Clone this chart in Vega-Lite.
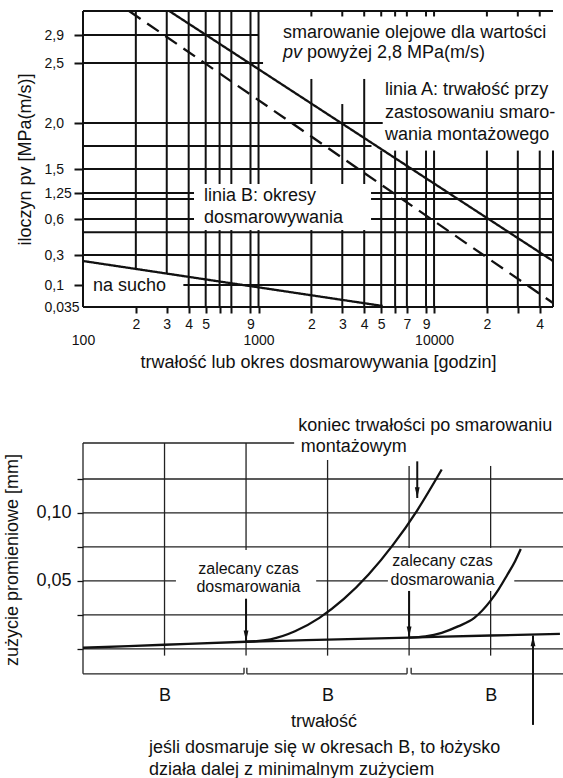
{
  "$schema": "https://vega.github.io/schema/vega-lite/v6.json",
  "background": "white",
  "padding": {"left": 3, "top": 6, "right": 0, "bottom": 0},
  "bounds": "flush",
  "spacing": 136,
  "config": {
    "font": "Liberation Sans",
    "view": {"stroke": null},
    "axis": {"labelFont": "Liberation Sans", "titleFont": "Liberation Sans", "labelColor": "#111", "titleColor": "#111", "tickColor": "#111", "titleFontWeight": "normal", "grid": false, "domain": false, "labelOverlap": false, "labelFlush": false},
    "text": {"font": "Liberation Sans", "color": "#111"}
  },
  "datasets": {
    "top_seg": [
      {"x": 100, "x2": 1000, "y": 2.9, "y2": 2.9},
      {"x": 100, "x2": 1061, "y": 2.5, "y2": 2.5},
      {"x": 100, "x2": 5100, "y": 2.0, "y2": 2.0},
      {"x": 100, "x2": 4400, "y": 1.75, "y2": 1.75},
      {"x": 100, "x2": 47600, "y": 1.5, "y2": 1.5},
      {"x": 100, "x2": 429, "y": 1.25, "y2": 1.25},
      {"x": 4375, "x2": 47600, "y": 1.25, "y2": 1.25},
      {"x": 100, "x2": 429, "y": 1.1, "y2": 1.1},
      {"x": 4375, "x2": 47600, "y": 1.1, "y2": 1.1},
      {"x": 100, "x2": 429, "y": 0.6, "y2": 0.6},
      {"x": 4375, "x2": 47600, "y": 0.6, "y2": 0.6},
      {"x": 100, "x2": 47600, "y": 0.49, "y2": 0.49},
      {"x": 100, "x2": 47600, "y": 0.3, "y2": 0.3},
      {"x": 373, "x2": 47600, "y": 0.1, "y2": 0.1},
      {"x": 200, "x2": 200, "y": 0.2, "y2": 3.25},
      {"x": 300, "x2": 300, "y": 0.18, "y2": 3.25},
      {"x": 400, "x2": 400, "y": 0.035, "y2": 3.25},
      {"x": 500, "x2": 500, "y": 1.344, "y2": 3.25},
      {"x": 500, "x2": 500, "y": 0.035, "y2": 0.508},
      {"x": 600, "x2": 600, "y": 1.344, "y2": 3.25},
      {"x": 600, "x2": 600, "y": 0.035, "y2": 0.508},
      {"x": 700, "x2": 700, "y": 1.344, "y2": 3.25},
      {"x": 700, "x2": 700, "y": 0.035, "y2": 0.508},
      {"x": 900, "x2": 900, "y": 1.344, "y2": 3.25},
      {"x": 900, "x2": 900, "y": 0.035, "y2": 0.508},
      {"x": 1000, "x2": 1000, "y": 1.344, "y2": 3.25},
      {"x": 1000, "x2": 1000, "y": 0.035, "y2": 0.508},
      {"x": 2000, "x2": 2000, "y": 1.344, "y2": 2.367},
      {"x": 2000, "x2": 2000, "y": 0.035, "y2": 0.508},
      {"x": 3000, "x2": 3000, "y": 1.344, "y2": 2.158},
      {"x": 3000, "x2": 3000, "y": 0.035, "y2": 0.508},
      {"x": 4000, "x2": 4000, "y": 1.344, "y2": 2.367},
      {"x": 4000, "x2": 4000, "y": 0.035, "y2": 0.508},
      {"x": 5000, "x2": 5000, "y": 0.035, "y2": 1.7},
      {"x": 6000, "x2": 6000, "y": 0.035, "y2": 1.7},
      {"x": 7000, "x2": 7000, "y": 0.035, "y2": 1.7},
      {"x": 9000, "x2": 9000, "y": 0.035, "y2": 1.7},
      {"x": 10000, "x2": 10000, "y": 0.035, "y2": 1.7},
      {"x": 20000, "x2": 20000, "y": 0.035, "y2": 1.7},
      {"x": 30000, "x2": 30000, "y": 0.035, "y2": 1.7},
      {"x": 40000, "x2": 40000, "y": 0.035, "y2": 1.7},
      {"x": 100, "x2": 100, "y": 0.035, "y2": 3.25},
      {"x": 100, "x2": 47600, "y": 0.035, "y2": 0.035},
      {"x": 100, "x2": 47600, "y": 3.25, "y2": 3.25},
      {"x": 47600, "x2": 47600, "y": 0.035, "y2": 1.7},
      {"x": 2000, "x2": 2000, "y": 3.17, "y2": 3.25},
      {"x": 3000, "x2": 3000, "y": 3.17, "y2": 3.25},
      {"x": 4000, "x2": 4000, "y": 3.17, "y2": 3.25},
      {"x": 5000, "x2": 5000, "y": 3.17, "y2": 3.25},
      {"x": 6000, "x2": 6000, "y": 3.17, "y2": 3.25},
      {"x": 7000, "x2": 7000, "y": 3.17, "y2": 3.25},
      {"x": 9000, "x2": 9000, "y": 3.17, "y2": 3.25},
      {"x": 10000, "x2": 10000, "y": 3.17, "y2": 3.25},
      {"x": 20000, "x2": 20000, "y": 3.17, "y2": 3.25},
      {"x": 30000, "x2": 30000, "y": 3.17, "y2": 3.25},
      {"x": 40000, "x2": 40000, "y": 3.17, "y2": 3.25}
    ],
    "top_lines": [
      {"line": "A", "x": 310, "y": 3.25},
      {"line": "A", "x": 47600, "y": 0.26},
      {"line": "B", "x": 183, "y": 3.25},
      {"line": "B", "x": 47600, "y": 0.0468},
      {"line": "dry", "x": 100, "y": 0.26},
      {"line": "dry", "x": 5100, "y": 0.038}
    ],
    "top_text": [
      {"x": 1379, "y": 2.93, "text": "smarowanie olejowe dla wartości"},
      {"x": 1888, "y": 2.643, "text": "powyżej 2,8 MPa(m/s)"},
      {"x": 5260, "y": 2.275, "text": "linia A: trwałość przy"},
      {"x": 5260, "y": 2.083, "text": "zastosowaniu smaro-"},
      {"x": 5260, "y": 1.87, "text": "wania montażowego"},
      {"x": 489, "y": 1.175, "text": "linia B: okresy"},
      {"x": 489, "y": 0.625, "text": "dosmarowywania"},
      {"x": 114, "y": 0.097, "text": "na sucho"}
    ],
    "top_text_it": [
      {"x": 1379, "y": 2.643, "text": "pv"}
    ],
    "bot_seg": [
      {"x": 0, "x2": 5.9, "y": 0.125, "y2": 0.125},
      {"x": 0, "x2": 5.9, "y": 0.1, "y2": 0.1},
      {"x": 0, "x2": 5.9, "y": 0.075, "y2": 0.075},
      {"x": 0, "x2": 1.14, "y": 0.05, "y2": 0.05},
      {"x": 2.86, "x2": 3.74, "y": 0.05, "y2": 0.05},
      {"x": 5.29, "x2": 5.9, "y": 0.05, "y2": 0.05},
      {"x": 0, "x2": 5.9, "y": 0.025, "y2": 0.025},
      {"x": 0, "x2": 5.9, "y": 0, "y2": 0},
      {"x": 1, "x2": 1, "y": -0.005, "y2": 0.1515},
      {"x": 2, "x2": 2, "y": 0.0728, "y2": 0.1515},
      {"x": 2, "x2": 2, "y": -0.005, "y2": 0.0368},
      {"x": 3, "x2": 3, "y": -0.005, "y2": 0.139},
      {"x": 4, "x2": 4, "y": 0.0743, "y2": 0.1346},
      {"x": 4, "x2": 4, "y": -0.005, "y2": 0.0426},
      {"x": 5, "x2": 5, "y": 0.0743, "y2": 0.1346},
      {"x": 5, "x2": 5, "y": -0.005, "y2": 0.0426},
      {"x": 0, "x2": 2.59, "y": 0.1515, "y2": 0.1515},
      {"x": 0, "x2": 0, "y": -0.0184, "y2": 0.1515},
      {"x": 0, "x2": 1.975, "y": -0.0184, "y2": -0.0184},
      {"x": 1.975, "x2": 1.975, "y": -0.0184, "y2": -0.014},
      {"x": 2.01, "x2": 2.01, "y": -0.0184, "y2": -0.014},
      {"x": 2.01, "x2": 3.975, "y": -0.0184, "y2": -0.0184},
      {"x": 3.975, "x2": 3.975, "y": -0.0184, "y2": -0.014},
      {"x": 4.025, "x2": 4.025, "y": -0.0184, "y2": -0.014},
      {"x": 4.025, "x2": 5.9, "y": -0.0184, "y2": -0.0184}
    ],
    "bot_curves": [
      {"curve": "wear", "x": 0, "y": 0.0008},
      {"curve": "wear", "x": 1, "y": 0.003},
      {"curve": "wear", "x": 2, "y": 0.0052},
      {"curve": "wear", "x": 3, "y": 0.0068},
      {"curve": "wear", "x": 4, "y": 0.0083},
      {"curve": "wear", "x": 5, "y": 0.0098},
      {"curve": "wear", "x": 5.85, "y": 0.011},
      {"curve": "c1", "x": 2.0, "y": 0.0052},
      {"curve": "c1", "x": 2.3, "y": 0.007},
      {"curve": "c1", "x": 2.6, "y": 0.0129},
      {"curve": "c1", "x": 2.9, "y": 0.0228},
      {"curve": "c1", "x": 3.2, "y": 0.0367},
      {"curve": "c1", "x": 3.5, "y": 0.0545},
      {"curve": "c1", "x": 3.8, "y": 0.0763},
      {"curve": "c1", "x": 4.1, "y": 0.102},
      {"curve": "c1", "x": 4.4, "y": 0.132},
      {"curve": "c2", "x": 4.0, "y": 0.0083},
      {"curve": "c2", "x": 4.2, "y": 0.0092},
      {"curve": "c2", "x": 4.4, "y": 0.0118},
      {"curve": "c2", "x": 4.6, "y": 0.0165},
      {"curve": "c2", "x": 4.8, "y": 0.0228},
      {"curve": "c2", "x": 5.0, "y": 0.0355},
      {"curve": "c2", "x": 5.1, "y": 0.044},
      {"curve": "c2", "x": 5.2, "y": 0.054},
      {"curve": "c2", "x": 5.3, "y": 0.0645},
      {"curve": "c2", "x": 5.37, "y": 0.0735}
    ],
    "bot_arrows": [
      {"x": 2, "y": 0.0368, "y2": 0.0055, "dir": "down"},
      {"x": 4, "y": 0.0426, "y2": 0.0085, "dir": "down"},
      {"x": 4.1, "y": 0.138, "y2": 0.111, "dir": "down"},
      {"x": 5.52, "y": -0.056, "y2": 0.0098, "dir": "up"}
    ],
    "bot_text_left": [
      {"x": 2.64, "y": 0.164, "text": "koniec trwałości po smarowaniu"},
      {"x": 2.67, "y": 0.1485, "text": "montażowym"},
      {"x": 0.81, "y": -0.0728, "text": "jeśli dosmaruje się w okresach B, to łożysko"},
      {"x": 0.81, "y": -0.089, "text": "działa dalej z minimalnym zużyciem"}
    ],
    "bot_text_center": [
      {"x": 2.03, "y": 0.0588, "text": "zalecany czas"},
      {"x": 2.03, "y": 0.0456, "text": "dosmarowania"},
      {"x": 4.41, "y": 0.0647, "text": "zalecany czas"},
      {"x": 4.41, "y": 0.0507, "text": "dosmarowania"}
    ]
  },
  "vconcat": [
    {
      "width": 470,
      "height": 296,
      "view": {"stroke": null},
      "layer": [
        {
          "data": {"name": "top_seg"},
          "mark": {"type": "rule", "strokeWidth": 2, "color": "#111"},
          "encoding": {
            "x": {"field": "x", "type": "quantitative",
              "scale": {"type": "log", "domain": [100, 47600], "nice": false},
              "axis": {
                "values": [100, 200, 300, 400, 500, 600, 700, 900, 1000, 2000, 3000, 4000, 5000, 6000, 7000, 9000, 10000, 20000, 30000, 40000],
                "tickCount": 50,
                "labelExpr": "(datum.value == 100 || datum.value == 1000 || datum.value == 10000) ? ['', toString(datum.value)] : (indexof([200,300,400,500,900,2000,3000,4000,5000,7000,9000,20000,40000], datum.value) >= 0 ? substring(toString(datum.value), 0, 1) : '')",
                "labelFontSize": 14, "labelLineHeight": 16, "labelBaseline": "top", "labelPadding": 4,
                "labelOverlap": false, "labelFlush": false,
                "tickSize": 6, "tickWidth": 2,
                "tickColor": {"condition": {"test": "datum.value == 100", "value": "transparent"}, "value": "#111"},
                "title": "trwałość lub okres dosmarowywania [godzin]", "titleFontSize": 18, "titlePadding": 6
              }},
            "x2": {"field": "x2"},
            "y": {"field": "y", "type": "quantitative",
              "scale": {"domain": [0.035, 0.1, 0.3, 0.6, 1.25, 1.5, 2.0, 2.5, 2.9, 3.25], "range": [296, 274, 244, 208, 182, 158, 112, 52, 24, 0], "nice": false, "zero": false},
              "axis": {
                "values": [0.035, 0.1, 0.3, 0.6, 1.25, 1.5, 2, 2.5, 2.9],
                "tickCount": 50,
                "labelExpr": "datum.value == 2 ? '2,0' : replace(toString(datum.value), '.', ',')",
                "labelAlign": "left", "labelPadding": 30, "labelFontSize": 14, "labelBaseline": "middle",
                "labelOverlap": false, "labelBound": false,
                "tickSize": 9, "tickWidth": 2,
                "tickColor": {"condition": {"test": "datum.value == 0.035", "value": "transparent"}, "value": "#111"},
                "title": "iloczyn pv [MPa(m/s)]", "titleFontSize": 18, "titlePadding": 10
              }},
            "y2": {"field": "y2"}
          }
        },
        {
          "data": {"name": "top_lines"},
          "mark": {"type": "line", "strokeWidth": 2.3, "color": "#111"},
          "encoding": {
            "x": {"field": "x", "type": "quantitative"},
            "y": {"field": "y", "type": "quantitative"},
            "strokeDash": {"field": "line", "type": "nominal", "scale": {"domain": ["A", "B", "dry"], "range": [[1, 0], [14, 8], [1, 0]]}, "legend": null}
          }
        },
        {
          "data": {"name": "top_text"},
          "mark": {"type": "text", "align": "left", "baseline": "middle", "fontSize": 18},
          "encoding": {
            "x": {"field": "x", "type": "quantitative"},
            "y": {"field": "y", "type": "quantitative"},
            "text": {"field": "text"}
          }
        },
        {
          "data": {"name": "top_text_it"},
          "mark": {"type": "text", "align": "left", "baseline": "middle", "fontSize": 18, "fontStyle": "italic"},
          "encoding": {
            "x": {"field": "x", "type": "quantitative"},
            "y": {"field": "y", "type": "quantitative"},
            "text": {"field": "text"}
          }
        }
      ]
    },
    {
      "width": 481,
      "height": 233,
      "view": {"stroke": null},
      "layer": [
        {
          "data": {"name": "bot_seg"},
          "mark": {"type": "rule", "strokeWidth": 1.3, "color": "#222"},
          "encoding": {
            "x": {"field": "x", "type": "quantitative",
              "scale": {"domain": [0, 5.9], "nice": false, "zero": false},
              "axis": {"values": [1, 3, 5], "tickCount": 50, "labelExpr": "'B'", "ticks": false, "tickSize": 0, "labelPadding": 10, "labelFontSize": 18, "labelBaseline": "top", "labelOverlap": false, "labelFlush": false, "title": "trwałość", "titleFontSize": 18, "titlePadding": 8}},
            "x2": {"field": "x2"},
            "y": {"field": "y", "type": "quantitative",
              "scale": {"domain": [-0.02, 0.1515], "nice": false, "zero": false},
              "axis": {"values": [0, 0.025, 0.05, 0.075, 0.1, 0.125], "tickCount": 50, "labelExpr": "datum.value == 0.05 ? '0,05' : (datum.value == 0.1 ? '0,10' : '')", "labelFontSize": 18, "labelPadding": 6, "labelOverlap": false, "tickSize": 6, "tickWidth": 1.3, "title": "zużycie promieniowe [mm]", "titleFontSize": 18, "titlePadding": 14}},
            "y2": {"field": "y2"}
          }
        },
        {
          "data": {"name": "bot_curves"},
          "mark": {"type": "line", "strokeWidth": 2.3, "color": "#111", "interpolate": "monotone"},
          "encoding": {
            "x": {"field": "x", "type": "quantitative"},
            "y": {"field": "y", "type": "quantitative"},
            "detail": {"field": "curve"}
          }
        },
        {
          "data": {"name": "bot_arrows"},
          "mark": {"type": "rule", "strokeWidth": 2, "color": "#111"},
          "encoding": {
            "x": {"field": "x", "type": "quantitative"},
            "y": {"field": "y", "type": "quantitative"},
            "y2": {"field": "y2"}
          }
        },
        {
          "data": {"name": "bot_arrows"},
          "mark": {"type": "point", "filled": true, "size": 144, "color": "#111", "opacity": 1},
          "encoding": {
            "x": {"field": "x", "type": "quantitative"},
            "y": {"field": "y2", "type": "quantitative"},
            "shape": {"field": "dir", "type": "nominal", "scale": {"domain": ["down", "up"], "range": ["M-0.4,-1.8L0.4,-1.8L0,0Z", "M-0.4,1.8L0.4,1.8L0,0Z"]}, "legend": null}
          }
        },
        {
          "data": {"name": "bot_text_left"},
          "mark": {"type": "text", "align": "left", "baseline": "middle", "fontSize": 18},
          "encoding": {
            "x": {"field": "x", "type": "quantitative"},
            "y": {"field": "y", "type": "quantitative"},
            "text": {"field": "text"}
          }
        },
        {
          "data": {"name": "bot_text_center"},
          "mark": {"type": "text", "align": "center", "baseline": "middle", "fontSize": 16},
          "encoding": {
            "x": {"field": "x", "type": "quantitative"},
            "y": {"field": "y", "type": "quantitative"},
            "text": {"field": "text"}
          }
        }
      ]
    }
  ]
}
